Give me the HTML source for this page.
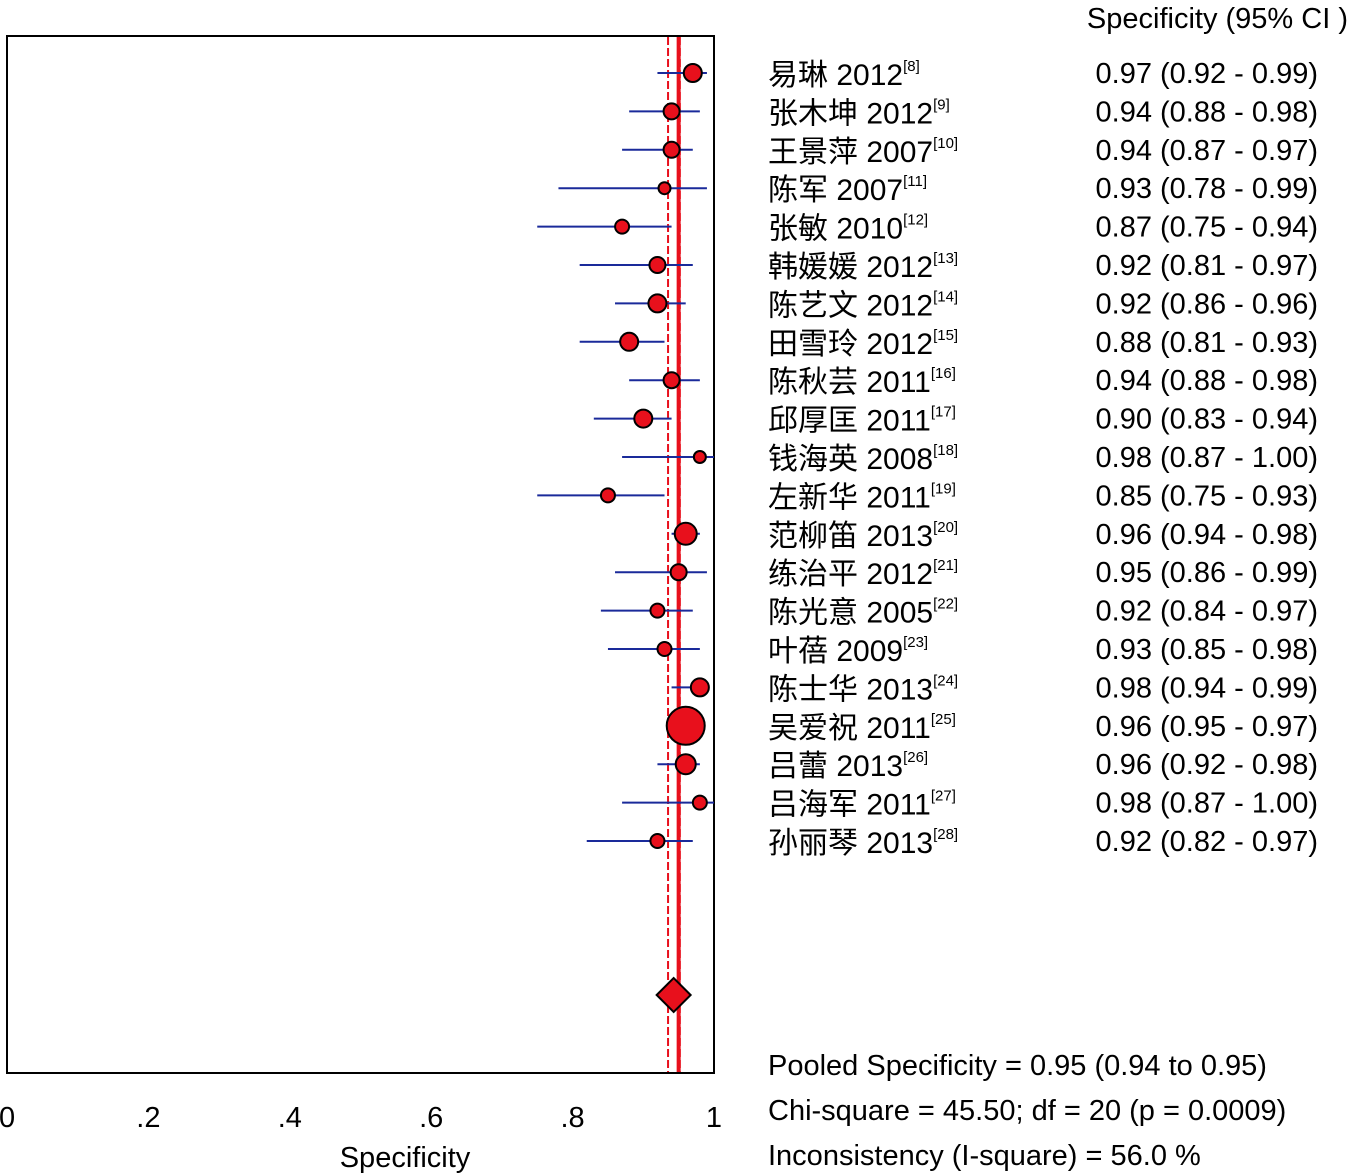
<!DOCTYPE html>
<html><head><meta charset="utf-8">
<style>
html,body{margin:0;padding:0;background:#fff;}
svg{display:block;}
text{font-family:"Liberation Sans","Noto Sans CJK SC",sans-serif;fill:#000;}
</style></head>
<body>
<svg id="chart" width="1352" height="1175" viewBox="0 0 1352 1175" xmlns="http://www.w3.org/2000/svg">
  <rect x="7" y="36" width="707" height="1037" fill="none" stroke="#000" stroke-width="2"/>
  <g id="marks"></g>
  <g id="labels"></g>
  <text x="1348" y="28" font-size="29" text-anchor="end">Specificity (95% CI )</text>
  <text x="405" y="1167" font-size="29" text-anchor="middle">Specificity</text>
  <text x="768" y="1075" font-size="29">Pooled Specificity = 0.95 (0.94 to 0.95)</text>
  <text x="768" y="1120" font-size="29">Chi-square = 45.50; df =  20 (p = 0.0009)</text>
  <text x="768" y="1165" font-size="29">Inconsistency (I-square) = 56.0 %</text>
</svg>
<script>
const studies=["易琳 2012","张木坤 2012","王景萍 2007","陈军 2007","张敏 2010","韩媛媛 2012","陈艺文 2012","田雪玲 2012","陈秋芸 2011","邱厚匡 2011","钱海英 2008","左新华 2011","范柳笛 2013","练治平 2012","陈光意 2005","叶蓓 2009","陈士华 2013","吴爱祝 2011","吕蕾 2013","吕海军 2011","孙丽琴 2013"];
const refs=["8","9","10","11","12","13","14","15","16","17","18","19","20","21","22","23","24","25","26","27","28"];
const est=[0.97,0.94,0.94,0.93,0.87,0.92,0.92,0.88,0.94,0.90,0.98,0.85,0.96,0.95,0.92,0.93,0.98,0.96,0.96,0.98,0.92];
const lo=[0.92,0.88,0.87,0.78,0.75,0.81,0.86,0.81,0.88,0.83,0.87,0.75,0.94,0.86,0.84,0.85,0.94,0.95,0.92,0.87,0.82];
const hi=[0.99,0.98,0.97,0.99,0.94,0.97,0.96,0.93,0.98,0.94,1.00,0.93,0.98,0.99,0.97,0.98,0.99,0.97,0.98,1.00,0.97];
const weights=[9,8,8,6,7,8,9,9,8,9,6,7,11,8,7,7,9,19,10,7,7];
const ticks=[0,0.2,0.4,0.6,0.8,1];
const tickLabels=["0",".2",".4",".6",".8","1"];
const pooled=0.95, pooledLo=0.935, pooledHi=0.952;

const NS="http://www.w3.org/2000/svg";
const X=v=>7+v*707;
const Y=i=>73+i*38.4;
const marks=document.getElementById('marks');
const labels=document.getElementById('labels');
function mk(tag,attrs,parent){const e=document.createElementNS(NS,tag);for(const k in attrs)e.setAttribute(k,attrs[k]);parent.appendChild(e);return e;}

// reference lines
let l=mk('line',{x1:X(pooledLo),x2:X(pooledLo),y1:37,y2:1072,stroke:'#e8101c','stroke-width':2,'stroke-dasharray':'8,3'},marks);


l=mk('line',{x1:X(pooled),x2:X(pooled),y1:37,y2:1072,stroke:'#e8101c','stroke-width':4},marks);


l=mk('line',{x1:X(pooledHi),x2:X(pooledHi),y1:37,y2:1072,stroke:'#e8101c','stroke-width':1.5,'stroke-dasharray':'8,3'},marks);



for(let i=0;i<studies.length;i++){
  const y=Y(i);
  const c=mk('line',{x1:X(lo[i]),x2:X(hi[i]),y1:y,y2:y,stroke:'#1a2a9a','stroke-width':2},marks);
  
  
  const p=mk('circle',{cx:X(est[i]),cy:y,r:weights[i],fill:'#e8101c',stroke:'#000','stroke-width':2},marks);
  
  
  const t=mk('text',{x:768,y:y+12,'font-size':30},labels);
  
  
  t.textContent=studies[i];
  const s=mk('tspan',{'font-size':15,dy:-14},t);
  s.textContent='['+refs[i]+']';
  const v=mk('text',{x:1318,y:y+10,'font-size':29,'text-anchor':'end'},labels);
  
  
  v.textContent=est[i].toFixed(2)+' ('+lo[i].toFixed(2)+' - '+hi[i].toFixed(2)+')';
}
const dx=X(pooled)-5, dy=995;
const d=mk('polygon',{points:`${dx-17},${dy} ${dx},${dy-17} ${dx+17},${dy} ${dx},${dy+17}`,fill:'#e8101c',stroke:'#000','stroke-width':2},marks);



for(let i=0;i<ticks.length;i++){
  const t=mk('text',{x:X(ticks[i]),y:1127,'font-size':29,'text-anchor':'middle'},labels);
  
  
  t.textContent=tickLabels[i];
}
</script>
</body></html>
